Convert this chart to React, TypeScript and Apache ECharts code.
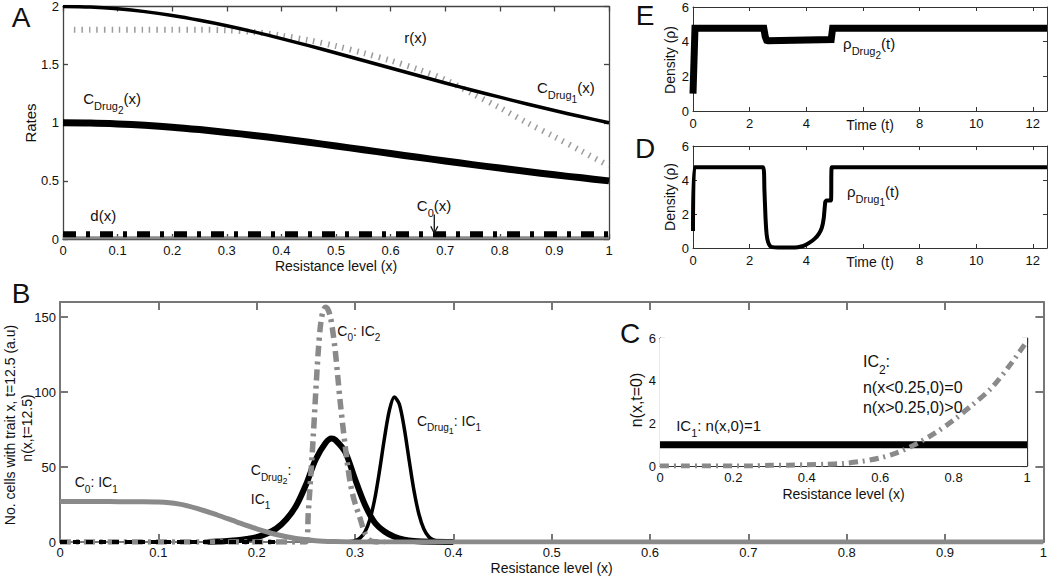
import React, { useEffect, useRef } from 'react';
import * as echarts from 'echarts';

const FONT = "'Liberation Sans', Arial, Helvetica, sans-serif";

// ---------- Panel A: rates vs resistance level ----------
const A_X = [0, 0.05, 0.1, 0.15, 0.2, 0.25, 0.3, 0.35, 0.4, 0.45, 0.5, 0.55, 0.6, 0.65, 0.7, 0.75, 0.8, 0.85, 0.9, 0.95, 1.0];
const A_CDRUG1 = [2.0, 1.995, 1.98, 1.956, 1.923, 1.882, 1.835, 1.782, 1.724, 1.663, 1.6, 1.535, 1.471, 1.406, 1.342, 1.28, 1.22, 1.161, 1.105, 1.051, 1.0];
const A_CDRUG2 = [1.0, 0.998, 0.99, 0.978, 0.962, 0.941, 0.917, 0.891, 0.862, 0.832, 0.8, 0.768, 0.735, 0.703, 0.671, 0.64, 0.61, 0.581, 0.552, 0.526, 0.5];
const A_R_X = [0.02, 0.05, 0.1, 0.15, 0.2, 0.25, 0.3, 0.35, 0.4, 0.45, 0.5, 0.55, 0.6, 0.65, 0.7, 0.75, 0.8, 0.85, 0.9, 0.95, 1.0];
const A_R = [1.8, 1.8, 1.8, 1.8, 1.8, 1.8, 1.795, 1.78, 1.75, 1.71, 1.66, 1.6, 1.535, 1.46, 1.37, 1.25, 1.13, 1.0, 0.88, 0.755, 0.63];
const A_FLAT_X = [0, 1];
const A_D = [0.04, 0.04];
const A_C0 = [0.01, 0.01];

// ---------- Panel E: density under drug 2 ----------
const E_T = [0, 0.07, 2.5, 2.55, 2.6, 2.65, 4.88, 4.93, 12.5];
const E_RHO = [1, 4.77, 4.77, 4.3, 4.08, 4.06, 4.12, 4.77, 4.77];

// ---------- Panel D: density under drug 1 ----------
const D_T = [0, 0.05, 2.48, 2.52, 2.56, 2.6, 2.65, 2.72, 2.8, 3.0, 3.5, 3.7, 3.9, 4.1, 4.3, 4.45, 4.55, 4.62, 4.67, 4.72, 4.87, 4.9, 12.5];
const D_RHO = [1, 4.75, 4.75, 3.5, 1.8, 0.8, 0.35, 0.12, 0.05, 0.03, 0.03, 0.05, 0.12, 0.3, 0.55, 0.85, 1.2, 1.8, 2.7, 2.8, 2.8, 4.75, 4.75];

// ---------- Panel B: distributions at t = 12.5 ----------
const B_C0IC1_X = [0, 0.02, 0.04, 0.06, 0.08, 0.1, 0.12, 0.14, 0.16, 0.18, 0.2, 0.22, 0.24, 0.26, 0.28, 0.3, 1.0];
const B_C0IC1 = [27, 27, 27, 26.9, 26.8, 26.6, 25.4, 22.3, 18.0, 13.3, 8.8, 5.0, 2.3, 0.9, 0.3, 0, 0];
const B_CDRUG2_X = [0.15, 0.16, 0.17, 0.18, 0.19, 0.2, 0.21, 0.22, 0.23, 0.24, 0.25, 0.26, 0.27, 0.276, 0.28, 0.29, 0.3, 0.31, 0.32, 0.33, 0.34, 0.35, 0.36, 0.38, 0.4];
const B_CDRUG2 = [0, 0.3, 0.6, 1.1, 2.0, 3.2, 5.5, 9, 15, 24, 38, 55, 66, 69, 68, 60, 42, 25, 13, 7, 3.5, 1.5, 0.6, 0.1, 0];
const B_CDRUG1_X = [0.28, 0.295, 0.3, 0.305, 0.31, 0.315, 0.32, 0.325, 0.33, 0.335, 0.34, 0.345, 0.35, 0.355, 0.36, 0.365, 0.37, 0.375, 0.38, 0.385, 0.39, 0.4];
const B_CDRUG1 = [0, 0.3, 0.9, 2.6, 6.6, 14.8, 28.5, 47.8, 69.5, 87.9, 96.6, 92, 76.1, 54.7, 34.1, 18.5, 8.7, 3.5, 1.3, 0.4, 0.1, 0];
const B_C0IC2_X = [0, 0.25, 0.2525, 0.255, 0.2575, 0.26, 0.2625, 0.265, 0.2675, 0.27, 0.2725, 0.275, 0.2775, 0.28, 0.2825, 0.285, 0.2875, 0.29, 0.2925, 0.295, 0.2975, 0.3, 0.305, 0.31, 0.315, 0.32, 0.33];
const B_C0IC2 = [0, 0, 20, 44, 70, 99, 126, 145, 154, 156.5, 155, 150, 140, 127, 110, 93, 78, 64, 51, 40, 32, 26, 16, 6, 1.2, 0.2, 0];
const B_BASE_X = [0, 0.22];
const B_BASE = [0, 0];

// ---------- Panel C: initial conditions ----------
const C_IC1_X = [0, 1];
const C_IC1 = [1, 1];
const C_IC2_X = [0, 0.25, 0.3, 0.35, 0.4, 0.45, 0.5, 0.55, 0.6, 0.65, 0.7, 0.75, 0.8, 0.85, 0.9, 0.95, 1.0];
const C_IC2 = [0, 0, 0.03, 0.04, 0.06, 0.08, 0.12, 0.22, 0.38, 0.65, 1.05, 1.55, 2.15, 2.85, 3.6, 4.65, 5.85];

// axis ranges [min, max, interval] and hidden tick labels
const A_XR = [0, 1, 0.1];
const A_YR = [0, 2, 0.5];
const T_XR = [0, 12.5, 2];
const T_YR = [0, 6, 2];
const T_HIDE_X = [6, 12.5];
const B_XR = [0, 1, 0.1];
const B_YR = [0, 160, 50];
const B_HIDE_Y = [160];
const C_XR = [0, 1, 0.2];
const C_YR = [0, 6, 2];

const zip = (xs: number[], ys: number[]) => xs.map((x, i) => [x, ys[i]]);

type PanelSpec = {
  grid: { left: number; top: number; width: number; height: number };
  xr: number[];
  yr: number[];
  color: string;
  lw: number;
  tick: number;
  xName: string;
  xNameGap: number;
  xMargin: number;
  hideX?: number[];
  hideY?: number[];
  bg?: boolean;
};

const PANELS: PanelSpec[] = [
  { grid: { left: 63, top: 5, width: 546, height: 234 }, xr: A_XR, yr: A_YR, color: '#444', lw: 1.3, tick: 5, xName: 'Resistance level (x)', xNameGap: 20, xMargin: 5 },
  { grid: { left: 693, top: 7, width: 356, height: 104 }, xr: T_XR, yr: T_YR, color: '#333', lw: 1, tick: 4, xName: 'Time (t)', xNameGap: 7, xMargin: 6, hideX: T_HIDE_X },
  { grid: { left: 693, top: 146, width: 356, height: 102 }, xr: T_XR, yr: T_YR, color: '#333', lw: 1, tick: 4, xName: 'Time (t)', xNameGap: 7, xMargin: 6, hideX: T_HIDE_X },
  { grid: { left: 60, top: 302, width: 986, height: 240 }, xr: B_XR, yr: B_YR, color: '#777', lw: 2, tick: 8, xName: 'Resistance level (x)', xNameGap: 19, xMargin: 4, hideY: B_HIDE_Y },
  { grid: { left: 660, top: 338, width: 367, height: 128 }, xr: C_XR, yr: C_YR, color: '#333', lw: 1.2, tick: 5, xName: 'Resistance level (x)', xNameGap: 21, xMargin: 5, bg: true },
];

const isHidden = (v: number, hide?: number[]) => !!hide && hide.some((h) => Math.abs(h - v) < 1e-9);

function buildAxes() {
  const xAxis: any[] = [];
  const yAxis: any[] = [];
  PANELS.forEach((p, g) => {
    const base = (range: number[]) => ({
      type: 'value',
      gridIndex: g,
      min: range[0],
      max: range[1],
      interval: range[2],
      splitLine: { show: false },
      axisLine: { show: true, onZero: false, lineStyle: { color: p.color, width: p.lw } },
      axisTick: { show: true, inside: true, length: p.tick, lineStyle: { color: p.color, width: p.lw } },
    });
    xAxis.push({
      ...base(p.xr),
      position: 'bottom',
      name: p.xName,
      nameLocation: 'middle',
      nameGap: p.xNameGap,
      nameMoveOverlap: false,
      nameTextStyle: { fontSize: 14, color: '#111', fontFamily: FONT },
      axisLabel: {
        show: true, margin: p.xMargin, fontSize: 13, color: '#111', fontFamily: FONT,
        formatter: (v: number) => (isHidden(v, p.hideX) ? '' : String(v)),
      },
    });
    xAxis.push({ ...base(p.xr), position: 'top', axisLabel: { show: false } });
    yAxis.push({
      ...base(p.yr),
      position: 'left',
      axisLabel: {
        show: true, margin: 4, fontSize: 13, color: '#111', fontFamily: FONT,
        formatter: (v: number) => (isHidden(v, p.hideY) ? '' : String(v)),
      },
    });
    yAxis.push({ ...base(p.yr), position: 'right', axisLabel: { show: false } });
  });
  return { xAxis, yAxis };
}

function line(g: number, data: number[][], lineStyle: any, extra: any = {}) {
  return {
    type: 'line',
    xAxisIndex: 2 * g,
    yAxisIndex: 2 * g,
    data,
    symbol: 'none',
    showSymbol: false,
    silent: true,
    lineStyle: { cap: 'butt', join: 'round', ...lineStyle },
    ...extra,
  };
}

function buildSeries() {
  return [
    // A
    line(0, zip(A_FLAT_X, A_C0), { color: '#8a8a8a', width: 3 }),
    line(0, zip(A_FLAT_X, A_D), { color: '#000', width: 6, type: [13, 10, 4, 10] }),
    line(0, zip(A_R_X, A_R), { color: '#9c9c9c', width: 6, type: [1.5, 6] }, { smooth: 0.3 }),
    line(0, zip(A_X, A_CDRUG2), { color: '#000', width: 7 }, { smooth: 0.3 }),
    line(0, zip(A_X, A_CDRUG1), { color: '#000', width: 3.5 }, { smooth: 0.3 }),
    // E
    line(1, zip(E_T, E_RHO), { color: '#000', width: 7, join: 'miter' }),
    // D
    line(2, zip(D_T, D_RHO), { color: '#000', width: 4 }, { smooth: 0.15 }),
    // B
    line(3, zip(B_CDRUG2_X, B_CDRUG2), { color: '#000', width: 6 }, { smooth: 0.3 }),
    line(3, zip(B_CDRUG1_X, B_CDRUG1), { color: '#000', width: 3.5 }, { smooth: 0.3 }),
    line(3, zip(B_C0IC1_X, B_C0IC1), { color: '#8a8a8a', width: 5 }, { smooth: 0.3 }),
    line(3, zip(B_C0IC2_X, B_C0IC2), { color: '#8a8a8a', width: 5.5, type: [11, 5, 3, 5] }, { smooth: 0.3 }),
    line(3, zip(B_BASE_X, B_BASE), { color: '#000', width: 4, type: [7, 6] }),
    // C
    line(4, zip(C_IC1_X, C_IC1), { color: '#000', width: 7 }),
    line(4, zip(C_IC2_X, C_IC2), { color: '#8a8a8a', width: 5, type: [9, 5, 2, 5] }, { smooth: 0.3 }),
  ];
}

// segment = [text, level] ; level 0 normal, 1 subscript, 2 sub-subscript
type Seg = [string, number];
// annotations: [panel, x, y (data coords of main-text centre-left), segments, font size]
const ANNOTATIONS: [number, number, number, Seg[], number][] = [
  [0, 0.625, 1.73, [['r(x)', 0]], 15],
  [0, 0.868, 1.3, [['C', 0], ['Drug', 1], ['1', 2], ['(x)', 0]], 15],
  [0, 0.037, 1.21, [['C', 0], ['Drug', 1], ['2', 2], ['(x)', 0]], 15],
  [0, 0.05, 0.2, [['d(x)', 0]], 15],
  [0, 0.648, 0.29, [['C', 0], ['0', 1], ['(x)', 0]], 15],
  [1, 5.3, 3.9, [['ρ', 0], ['Drug', 1], ['2', 2], ['(t)', 0]], 15],
  [2, 5.44, 3.35, [['ρ', 0], ['Drug', 1], ['1', 2], ['(t)', 0]], 15],
  [3, 0.015, 40, [['C', 0], ['0', 1], [': IC', 0], ['1', 1]], 14],
  [3, 0.194, 48, [['C', 0], ['Drug', 1], ['2', 2], [':', 0]], 14],
  [3, 0.194, 29, [['IC', 0], ['1', 1]], 14],
  [3, 0.282, 141, [['C', 0], ['0', 1], [': IC', 0], ['2', 1]], 14],
  [3, 0.363, 81, [['C', 0], ['Drug', 1], ['1', 2], [': IC', 0], ['1', 1]], 14],
  [4, 0.044, 1.92, [['IC', 0], ['1', 1], [': n(x,0)=1', 0]], 15],
  [4, 0.553, 4.88, [['IC', 0], ['2', 1], [':', 0]], 16],
  [4, 0.553, 3.66, [['n(x<0.25,0)=0', 0]], 16],
  [4, 0.553, 2.72, [['n(x>0.25,0)>0', 0]], 16],
];

// arrow for C0(x) in panel A: [x, yFrom, yTo]
const A_ARROW = [0.68, 0.21, 0.05];

// panel letters [text, cx, cy]
const LETTERS: [string, number, number][] = [
  ['A', 21, 17],
  ['B', 21, 293],
  ['C', 630, 333],
  ['D', 645, 148],
  ['E', 645, 15],
];

// rotated axis titles [text, cx, cy, fontSize]
const Y_NAMES: [string, number, number, number][] = [
  ['Rates', 30, 123, 15],
  ['Density (ρ)', 670, 60, 14],
  ['Density (ρ)', 670, 197, 14],
  ['No. cells with trait x, t=12.5 (a.u)', 10, 425, 14],
  ['n(x,t=12.5)', 27, 428, 14],
  ['n(x,t=0)', 636, 400, 16],
];

export default function App() {
  const ref = useRef<HTMLDivElement>(null);
  useEffect(() => {
    document.body.style.margin = '0';
    const chart = echarts.init(ref.current!, null, { renderer: 'svg' });
    const { xAxis, yAxis } = buildAxes();
    chart.setOption({
      animation: false,
      backgroundColor: '#fff',
      textStyle: { fontFamily: FONT },
      grid: PANELS.map((p) => ({
        ...p.grid,
        containLabel: false,
        show: !!p.bg,
        backgroundColor: '#fff',
        borderWidth: 0,
        z: p.bg ? 3 : 0,
      })),
      xAxis,
      yAxis,
      series: buildSeries(),
    });

    const px = (g: number, x: number, y: number) =>
      chart.convertToPixel({ xAxisIndex: 2 * g, yAxisIndex: 2 * g } as any, [x, y]) as number[];

    const canvas = document.createElement('canvas');
    const ctx = canvas.getContext('2d')!;
    const measure = (t: string, size: number) => {
      ctx.font = `${size}px ${FONT}`;
      return ctx.measureText(t).width;
    };

    const graphics: any[] = [];
    ANNOTATIONS.forEach(([g, x, y, segs, f]) => {
      const [sx, sy] = px(g, x, y);
      let cur = sx;
      segs.forEach(([t, lvl]) => {
        const size = lvl === 0 ? f : lvl === 1 ? Math.round(f * 0.74) : Math.round(f * 0.64);
        const dy = lvl === 0 ? 0 : lvl === 1 ? f * 0.5 : f * 0.78;
        graphics.push({
          type: 'text',
          x: cur,
          y: sy + dy,
          silent: true,
          z: 100,
          style: { text: t, fontSize: size, fontFamily: FONT, fill: '#111', align: 'left', verticalAlign: 'middle' },
        });
        cur += measure(t, size);
      });
    });
    const [ax, ay1] = px(0, A_ARROW[0], A_ARROW[1]);
    const [, ay2] = px(0, A_ARROW[0], A_ARROW[2]);
    graphics.push({ type: 'line', z: 100, silent: true, shape: { x1: ax, y1: ay1, x2: ax, y2: ay2 }, style: { stroke: '#111', lineWidth: 1.3 } });
    graphics.push({ type: 'polyline', z: 100, silent: true, shape: { points: [[ax - 3.5, ay2 - 7], [ax, ay2], [ax + 3.5, ay2 - 7]] }, style: { stroke: '#111', lineWidth: 1.3, fill: 'none' } });
    LETTERS.forEach(([t, cx, cy]) => {
      graphics.push({ type: 'text', x: cx, y: cy, silent: true, z: 100, style: { text: t, fontSize: 28, fontFamily: FONT, fill: '#111', align: 'center', verticalAlign: 'middle' } });
    });
    Y_NAMES.forEach(([t, cx, cy, f]) => {
      graphics.push({ type: 'text', x: cx, y: cy, rotation: Math.PI / 2, silent: true, z: 100, style: { text: t, fontSize: f, fontFamily: FONT, fill: '#111', align: 'center', verticalAlign: 'middle' } });
    });
    chart.setOption({ graphic: graphics });

    return () => chart.dispose();
  }, []);
  return <div ref={ref} style={{ width: 1050, height: 577 }} />;
}
